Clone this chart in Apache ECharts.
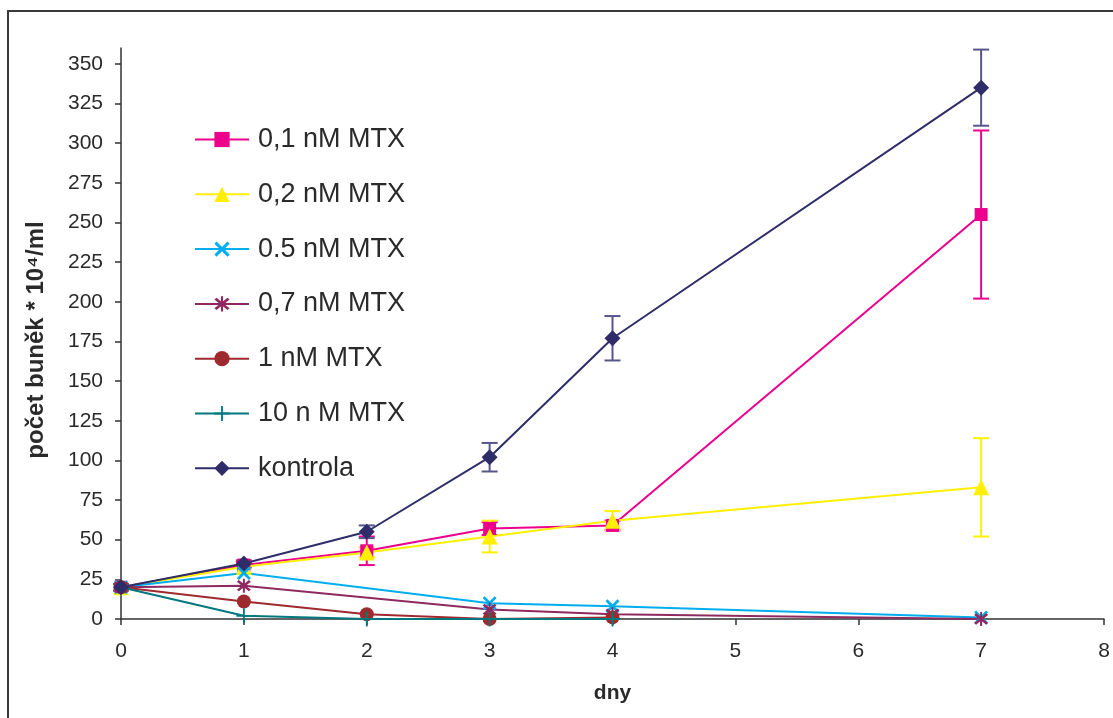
<!DOCTYPE html>
<html>
<head>
<meta charset="utf-8">
<script src="https://cdn.jsdelivr.net/npm/echarts@6/dist/echarts.min.js"></script>
<style>
  html, body { margin: 0; padding: 0; background: #fff; }
  #chart { width: 1113px; height: 718px; }
</style>
</head>
<body>
<div id="chart"></div>
<script>
// Days of measurement
const days = [0, 1, 2, 3, 4, 7];

// Cell counts (x10^4/ml) per MTX concentration; null = not measured
const mtx01 = [20, 34, 43, 57, 59, 255];
const mtx01Err = [2, 2, 9, 4, 3, 53];
const mtx02 = [20, 33, 42, 52, 62, 83];
const mtx02Err = [1, 1, 3, 10, 6, 31];
const mtx05 = [20, 29, null, 10, 8, 1];
const mtx07 = [20, 21, null, 6, 3, 0];
const mtx1 = [20, 11, 3, 0, 1, null];
const mtx10 = [20, 2, 0, 0, 0, null];
const kontrola = [20, 35, 55, 102, 177, 335];
const kontrolaErr = [2, 2, 4, 9, 14, 24];

const yTicks = [0, 25, 50, 75, 100, 125, 150, 175, 200, 225, 250, 275, 300, 325, 350];
const xTicks = [0, 1, 2, 3, 4, 5, 6, 7, 8];

const names = ['0,1 nM MTX', '0,2 nM MTX', '0.5 nM MTX', '0,7 nM MTX', '1 nM MTX', '10 n M MTX', 'kontrola'];
const colors = ['#ec008c', '#fff000', '#00aeef', '#8e2a5f', '#9e2a2f', '#00787e', '#2e2d69'];
const yTitle = 'počet buněk * 10⁴/ml';
const xTitle = 'dny';

// Marker shapes drawn as filled outlines
const xMark = 'path://M0,1.4L1.4,0L5,3.6L8.6,0L10,1.4L6.4,5L10,8.6L8.6,10L5,6.4L1.4,10L0,8.6L3.6,5Z';
const starMark = 'path://M0,1.4L1.4,0L5,3.6L8.6,0L10,1.4L6.4,5L10,8.6L8.6,10L5,6.4L1.4,10L0,8.6L3.6,5Z M4.3,-1.2L5.7,-1.2L5.7,11.2L4.3,11.2Z';
const plusMark = 'path://M4.4,0L5.6,0L5.6,4.4L10,4.4L10,5.6L5.6,5.6L5.6,10L4.4,10L4.4,5.6L0,5.6L0,4.4L4.4,4.4Z';

function pairs(vals) {
  const out = [];
  vals.forEach((v, i) => { if (v !== null) out.push([days[i], v]); });
  return out;
}
function triples(vals, errs) {
  return vals.map((v, i) => [days[i], v, errs[i]]);
}

function lineSeries(idx, vals, symbol, size) {
  return {
    type: 'line',
    name: names[idx],
    data: pairs(vals),
    symbol: symbol,
    symbolSize: size,
    showAllSymbol: true,
    lineStyle: { color: colors[idx], width: 2 },
    itemStyle: { color: colors[idx] },
    emphasis: { disabled: true },
    clip: false,
    animation: false
  };
}

function errorSeries(vals, errs, color) {
  return {
    type: 'custom',
    name: 'err',
    data: triples(vals, errs),
    encode: { x: 0, y: 1 },
    silent: true,
    clip: false,
    animation: false,
    renderItem: function (params, api) {
      const x = api.value(0), y = api.value(1), e = api.value(2);
      const hi = api.coord([x, y + e]);
      const lo = api.coord([x, y - e]);
      const h = 8;
      const st = { stroke: color, lineWidth: 2 };
      return {
        type: 'group',
        children: [
          { type: 'line', shape: { x1: hi[0], y1: hi[1], x2: lo[0], y2: lo[1] }, style: st },
          { type: 'line', shape: { x1: hi[0] - h, y1: hi[1], x2: hi[0] + h, y2: hi[1] }, style: st },
          { type: 'line', shape: { x1: lo[0] - h, y1: lo[1], x2: lo[0] + h, y2: lo[1] }, style: st }
        ]
      };
    }
  };
}

const chart = echarts.init(document.getElementById('chart'), null, { renderer: 'canvas' });

chart.setOption({
  animation: false,
  backgroundColor: '#fff',
  textStyle: { fontFamily: 'Liberation Sans, Arial, sans-serif' },
  graphic: [{
    type: 'rect',
    shape: { x: 8, y: 11, width: 1300, height: 900 },
    style: { fill: 'none', stroke: '#3a3a3a', lineWidth: 2 },
    silent: true,
    z: 0
  }, {
    // vertical axis title
    type: 'text',
    x: 36,
    y: 340,
    rotation: Math.PI / 2,
    silent: true,
    style: {
      text: yTitle,
      font: 'bold 24px "Liberation Sans", Arial, sans-serif',
      fill: '#2a2a2a',
      align: 'center',
      verticalAlign: 'middle'
    }
  }],
  grid: { left: 121, right: 9, top: 48, bottom: 99, containLabel: false },
  legend: {
    data: names,
    orient: 'vertical',
    left: 189,
    top: 121,
    itemWidth: 54,
    itemHeight: 19,
    itemGap: 27.8,
    selectedMode: false,
    textStyle: { fontSize: 27, lineHeight: 27, color: '#2a2a2a', padding: [0, 0, 0, 4], fontFamily: 'Liberation Sans, Arial, sans-serif' }
  },
  xAxis: {
    type: 'value',
    min: 0,
    max: 8,
    interval: 1,
    name: xTitle,
    nameLocation: 'middle',
    nameGap: 64,
    nameTextStyle: { fontSize: 21, fontWeight: 'bold', color: '#2a2a2a' },
    axisLine: { show: true, onZero: false, lineStyle: { color: '#333', width: 1.5 } },
    axisTick: { show: true, length: 6, lineStyle: { color: '#333', width: 1.5 } },
    axisLabel: { fontSize: 21, color: '#2a2a2a', margin: 22, customValues: xTicks },
    splitLine: { show: false }
  },
  yAxis: {
    type: 'value',
    min: 0,
    max: 360,
    axisLine: { show: true, lineStyle: { color: '#333', width: 1.5 } },
    axisTick: { show: true, length: 6, customValues: yTicks, lineStyle: { color: '#333', width: 1.5 } },
    axisLabel: { fontSize: 21, color: '#2a2a2a', margin: 18, customValues: yTicks },
    splitLine: { show: false }
  },
  series: [
    errorSeries(mtx01, mtx01Err, colors[0]),
    lineSeries(0, mtx01, 'rect', 13),
    errorSeries(mtx02, mtx02Err, colors[1]),
    lineSeries(1, mtx02, 'triangle', 16),
    lineSeries(2, mtx05, xMark, 14),
    lineSeries(3, mtx07, starMark, 14),
    lineSeries(4, mtx1, 'circle', 14),
    lineSeries(5, mtx10, plusMark, 15),
    errorSeries(kontrola, kontrolaErr, '#57568a'),
    lineSeries(6, kontrola, 'diamond', 16)
  ]
});
</script>
</body>
</html>
